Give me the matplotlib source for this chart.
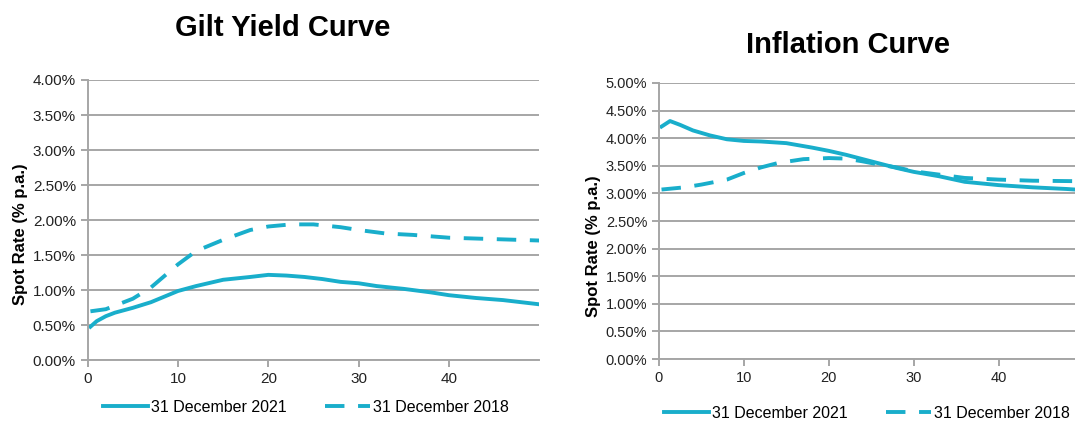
import matplotlib
matplotlib.use("Agg")
import matplotlib.pyplot as plt

plt.rcParams["font.family"] = ["Liberation Sans", "DejaVu Sans"]

# Gilt yield curve (spot rate, % p.a.)
gilt_terms_2021 = [0.3, 1, 2, 3, 5, 7, 10, 12, 15, 18, 20, 22, 24, 26, 28, 30, 32, 35, 38, 40, 43, 46, 50]
gilt_2021 = [0.48, 0.56, 0.63, 0.68, 0.75, 0.83, 0.99, 1.06, 1.15, 1.19, 1.22, 1.21, 1.19, 1.16, 1.12, 1.10, 1.06, 1.02, 0.97, 0.93, 0.89, 0.86, 0.80]
gilt_terms_2018 = [0.3, 2, 5, 7, 10, 12, 15, 18, 20, 22.5, 25, 28, 30, 33, 36, 40, 45, 50]
gilt_2018 = [0.70, 0.73, 0.88, 1.04, 1.37, 1.56, 1.72, 1.86, 1.91, 1.94, 1.94, 1.90, 1.86, 1.81, 1.79, 1.75, 1.73, 1.71]

# Inflation curve (spot rate, % p.a.)
infl_terms_2021 = [0.3, 1.3, 2.5, 4, 6, 8, 10, 12, 15, 18, 20, 22, 25, 28, 30, 33, 36, 40, 44, 48, 50]
infl_2021 = [4.21, 4.31, 4.24, 4.14, 4.05, 3.98, 3.95, 3.94, 3.91, 3.83, 3.77, 3.70, 3.58, 3.46, 3.39, 3.31, 3.21, 3.15, 3.11, 3.08, 3.06]
infl_terms_2018 = [0.3, 3, 5, 8, 10, 12, 14, 17, 20, 22, 24, 26, 28, 30, 33, 36, 40, 44, 50]
infl_2018 = [3.07, 3.11, 3.16, 3.25, 3.37, 3.47, 3.55, 3.62, 3.64, 3.63, 3.58, 3.52, 3.47, 3.40, 3.34, 3.28, 3.25, 3.23, 3.22]

labels = ["31 December 2021", "31 December 2018"]
teal = "#19AECB"
grid_col = "#A6A6A6"

fig = plt.figure(figsize=(10.75, 4.21), dpi=100)
ax1 = fig.add_axes([0.0816, 0.144, 0.420, 0.666])
ax2 = fig.add_axes([0.613, 0.147, 0.395, 0.656])


def style(ax, ymax, tsize, label_x, label_y):
    ax.set_xlim(0, 50)
    ax.set_ylim(0, ymax)
    ax.set_xticks([0, 10, 20, 30, 40])
    yt = [i * 0.5 for i in range(int(ymax / 0.5) + 1)]
    ax.set_yticks(yt)
    ax.set_yticklabels([f"{v:.2f}%" for v in yt])
    ax.grid(axis="y", color=grid_col, linewidth=1.4)
    ax.set_axisbelow(True)
    for s in ["top", "right"]:
        ax.spines[s].set_visible(False)
    for s in ["left", "bottom"]:
        ax.spines[s].set_color(grid_col)
        ax.spines[s].set_linewidth(1.4)
    ax.tick_params(colors=grid_col, labelcolor="#222222", labelsize=tsize, width=1.4, length=5)
    ax.set_ylabel("Spot Rate (% p.a.)", fontsize=12, fontweight="bold")
    ax.yaxis.set_label_coords(label_x, label_y)


ax1.plot(gilt_terms_2021, gilt_2021, color=teal, lw=2.8, label=labels[0])
ax1.plot(gilt_terms_2018, gilt_2018, color=teal, lw=2.8, dashes=(5, 3.5), label=labels[1])
style(ax1, 4.0, 11, -0.132, 0.45)

ax2.plot(infl_terms_2021, infl_2021, color=teal, lw=2.8, label=labels[0])
ax2.plot(infl_terms_2018, infl_2018, color=teal, lw=2.8, dashes=(5, 3.5), label=labels[1])
style(ax2, 5.0, 10.5, -0.137, 0.41)

fig.legend(*ax1.get_legend_handles_labels(), loc="center", bbox_to_anchor=(306 / 1075, 1 - 407 / 421),
           ncol=2, frameon=False, fontsize=11.5, handlelength=2.8, handletextpad=0.2,
           columnspacing=2.4, borderaxespad=0, borderpad=0)
fig.legend(*ax2.get_legend_handles_labels(), loc="center", bbox_to_anchor=(867 / 1075, 1 - 413 / 421),
           ncol=2, frameon=False, fontsize=11.5, handlelength=2.8, handletextpad=0.2,
           columnspacing=2.4, borderaxespad=0, borderpad=0)

fig.text(283 / 1075, 1 - 28 / 421, "Gilt Yield Curve", ha="center", va="center",
         fontsize=21, fontweight="bold")
fig.text(848 / 1075, 1 - 45 / 421, "Inflation Curve", ha="center", va="center",
         fontsize=21, fontweight="bold")

fig.savefig("out.png", dpi=100)
